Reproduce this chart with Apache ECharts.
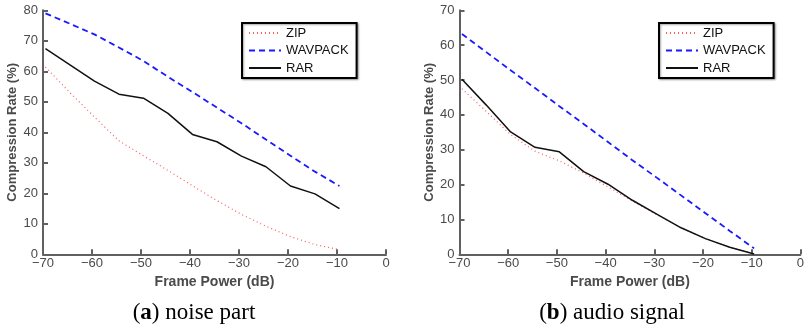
<!DOCTYPE html>
<html>
<head>
<meta charset="utf-8">
<script src="https://cdn.jsdelivr.net/npm/echarts@6/dist/echarts.min.js"></script>
<style>
  html, body { margin: 0; padding: 0; background: #fff; }
  #chart { width: 807px; height: 327px; }
</style>
</head>
<body>
<div id="chart"></div>
<script>
// frame power (dB) sample points, shared by both panels
const framePower = [-69.5, -64.5, -59.5, -54.5, -49.5, -44.5, -39.5, -34.5, -29.5, -24.5, -19.5, -14.5, -9.5];

// (a) noise part
const noiseZip = [61.4, 53.0, 45.0, 37.2, 32.3, 27.5, 22.5, 17.6, 13.1, 9.2, 5.8, 3.2, 1.5];
const noiseWavpack = [79.0, 75.6, 72.1, 67.8, 63.4, 58.2, 53.2, 48.1, 43.0, 37.6, 32.3, 27.1, 22.4];
const noiseRar = [67.4, 62.1, 56.8, 52.5, 51.2, 46.2, 39.3, 36.9, 32.2, 28.7, 22.4, 19.8, 15.0];

// (b) audio signal
const audioZip = [47.5, 41.0, 34.3, 29.6, 26.8, 23.3, 19.3, 15.3, 11.4, 7.6, 4.5, 2.0, 0.1];
const audioWavpack = [63.2, 58.0, 52.8, 47.7, 42.5, 37.4, 32.2, 27.0, 22.0, 16.9, 11.8, 6.7, 1.7];
const audioRar = [50.2, 42.8, 35.1, 30.7, 29.4, 23.7, 20.1, 15.5, 11.5, 7.6, 4.5, 2.0, 0.1];

const xTicks = { min: -70, max: 0, step: 10 };
const yMaxNoise = 80;
const yMaxAudio = 70;

const seriesNames = ['ZIP', 'WAVPACK', 'RAR'];
const captions = ['({b|a}) noise part', '({b|b}) audio signal'];

const axisGray = '#606060';
const textGray = '#4a4a4a';
const sans = 'Liberation Sans, Arial, Helvetica, sans-serif';

const pairs = (ys) => framePower.map((x, i) => [x, ys[i]]);

const makeX = (gridIndex) => ({
    type: 'value',
    gridIndex: gridIndex,
    min: xTicks.min,
    max: xTicks.max,
    interval: xTicks.step,
    name: 'Frame Power (dB)',
    nameLocation: 'middle',
    nameGap: 15,
    nameTextStyle: { fontFamily: sans, fontSize: 14, fontWeight: 'bold', color: textGray },
    axisLine: { onZero: false, lineStyle: { color: axisGray, width: 2 } },
    axisTick: { inside: true, length: 5, lineStyle: { color: axisGray, width: 2 } },
    axisLabel: {
        margin: 3,
        fontFamily: sans,
        fontSize: 13,
        color: textGray,
        formatter: (v) => String(v).replace('-', '\u2212')
    },
    splitLine: { show: false }
});

const makeY = (gridIndex, max) => ({
    type: 'value',
    gridIndex: gridIndex,
    position: 'left',
    min: 0,
    max: max,
    interval: 10,
    name: 'Compression Rate (%)',
    nameLocation: 'middle',
    nameGap: 24,
    nameTextStyle: { fontFamily: sans, fontSize: 13, fontWeight: 'bold', color: textGray },
    axisLine: { show: true, onZero: false, lineStyle: { color: axisGray, width: 2 } },
    axisTick: { show: true, inside: true, length: 5, lineStyle: { color: axisGray, width: 2 } },
    axisLabel: { margin: 5, fontFamily: sans, fontSize: 13, color: textGray },
    splitLine: { show: false }
});

const lineStyles = {
    ZIP: { color: '#ff5a5a', width: 1.2, type: [1, 3] },
    WAVPACK: { color: '#1a1aff', width: 1.8, type: [6, 4] },
    RAR: { color: '#111111', width: 1.5, type: 'solid' }
};

const makeSeries = (name, data, idx) => ({
    name: name,
    type: 'line',
    xAxisIndex: idx,
    yAxisIndex: idx,
    data: pairs(data),
    symbol: 'none',
    silent: true,
    animation: false,
    itemStyle: { color: lineStyles[name].color },
    lineStyle: lineStyles[name]
});

const makeLegend = (left) => ({
    left: left,
    top: 23,
    orient: 'vertical',
    data: seriesNames,
    itemWidth: 32,
    itemHeight: 10,
    itemGap: 3.5,
    padding: [3, 8, 3, 6],
    borderColor: '#000',
    borderWidth: 2,
    backgroundColor: '#fff',
    shadowColor: 'rgba(0,0,0,0.35)',
    shadowBlur: 2,
    shadowOffsetX: 1,
    shadowOffsetY: 1,
    selectedMode: false,
    itemStyle: { opacity: 0 },
    textStyle: { fontFamily: sans, fontSize: 13, color: '#111', lineHeight: 14 }
});

const makeCaption = (x, text) => ({
    type: 'text',
    x: x,
    y: 313,
    style: {
        text: text,
        fill: '#000',
        font: '23px "Liberation Serif", "Times New Roman", serif',
        textAlign: 'center',
        textVerticalAlign: 'middle',
        rich: {
            b: { fontFamily: 'Liberation Serif', fontSize: 23, fontWeight: 'bold', fill: '#000' }
        }
    }
});

const chart = echarts.init(document.getElementById('chart'), null, { renderer: 'canvas' });

chart.setOption({
    animation: false,
    backgroundColor: '#fff',
    grid: [
        { left: 43, right: 421, top: 10.3, bottom: 72.7 },
        { left: 459.5, right: 3.5, top: 10.3, bottom: 72.7 }
    ],
    xAxis: [makeX(0), makeX(1)],
    yAxis: [makeY(0, yMaxNoise), makeY(1, yMaxAudio)],
    legend: [makeLegend(242), makeLegend(659)],
    series: [
        makeSeries('ZIP', noiseZip, 0),
        makeSeries('WAVPACK', noiseWavpack, 0),
        makeSeries('RAR', noiseRar, 0),
        makeSeries('ZIP', audioZip, 1),
        makeSeries('WAVPACK', audioWavpack, 1),
        makeSeries('RAR', audioRar, 1)
    ],
    graphic: [
        makeCaption(194, captions[0]),
        makeCaption(612, captions[1])
    ]
});
</script>
</body>
</html>
